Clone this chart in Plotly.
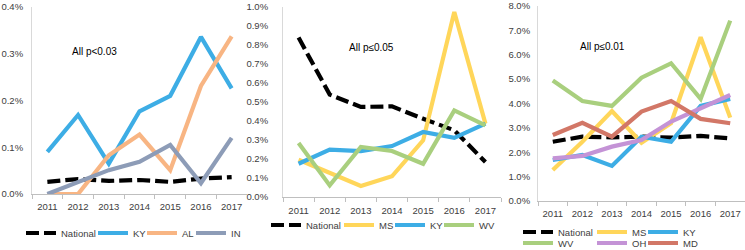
import plotly.graph_objects as go

years = ["2011", "2012", "2013", "2014", "2015", "2016", "2017"]

# Panel 1 (percent)
p1_national = [0.026, 0.032, 0.028, 0.030, 0.026, 0.033, 0.036]
p1_ky = [0.090, 0.169, 0.065, 0.177, 0.210, 0.336, 0.226]
p1_al = [0.000, 0.000, 0.083, 0.127, 0.051, 0.231, 0.337]
p1_in = [0.000, 0.026, 0.051, 0.069, 0.105, 0.023, 0.120]

# Panel 2 (percent)
p2_national = [0.839, 0.539, 0.474, 0.477, 0.412, 0.351, 0.184]
p2_ms = [0.196, 0.126, 0.058, 0.109, 0.298, 0.974, 0.386]
p2_ky = [0.175, 0.249, 0.242, 0.268, 0.342, 0.311, 0.386]
p2_wv = [0.284, 0.061, 0.263, 0.242, 0.175, 0.456, 0.377]

# Panel 3 (percent)
p3_national = [2.43, 2.64, 2.61, 2.64, 2.60, 2.67, 2.57]
p3_ms = [1.27, 2.43, 3.69, 2.39, 3.19, 6.72, 3.42]
p3_ky = [1.68, 1.89, 1.44, 2.64, 2.43, 3.90, 4.19]
p3_wv = [4.94, 4.10, 3.90, 5.06, 5.65, 4.19, 7.40]
p3_oh = [1.75, 1.85, 2.23, 2.50, 3.26, 3.80, 4.35]
p3_md = [2.71, 3.21, 2.64, 3.67, 4.10, 3.37, 3.19]

W, H = 745, 250
C = {"National": "black", "KY": "#3DADE5", "AL": "#F8B583", "IN": "#8D9CB7",
     "MS": "#FFD65A", "WV": "#A9CF7E", "OH": "#C493D6", "MD": "#D27767"}

FONT = "Liberation Sans"
TXT = "#404040"

fig = go.Figure()

# legend item positions (symbol start px, centre y px)
panels = [
    (1, [("National", p1_national, 29, 233), ("KY", p1_ky, 101, 233),
         ("AL", p1_al, 150, 233), ("IN", p1_in, 199, 233)]),
    (2, [("National", p2_national, 274, 225), ("MS", p2_ms, 347, 225),
         ("KY", p2_ky, 398, 225), ("WV", p2_wv, 447, 225)]),
    (3, [("National", p3_national, 526, 232), ("MS", p3_ms, 600, 232),
         ("KY", p3_ky, 651, 232), ("WV", p3_wv, 526, 243),
         ("OH", p3_oh, 600, 243), ("MD", p3_md, 651, 243)]),
]

legend_layouts = {}
li = 0
for pnum, series in panels:
    xa = "x" if pnum == 1 else f"x{pnum}"
    ya = "y" if pnum == 1 else f"y{pnum}"
    for name, vals, lx, ly in series:
        li += 1
        lname = "legend" if li == 1 else f"legend{li}"
        dash = "13px,5px" if name == "National" else "solid"
        fig.add_trace(go.Scatter(
            x=years, y=vals, name=name, mode="lines",
            line=dict(color=C[name], width=4.2, dash=dash),
            xaxis=xa, yaxis=ya, legend=lname, showlegend=True,
            hoverinfo="skip"))
        legend_layouts[lname] = dict(
            x=(lx - 8) / W, y=1 - ly / H, xanchor="left", yanchor="middle",
            orientation="h", bgcolor="rgba(0,0,0,0)", borderwidth=0,
            font=dict(family=FONT, size=9.5, color=TXT), itemwidth=30)

# axis domains (px)
doms = {
    1: dict(x=(32, 247), y=(7, 194), yr=[0, 0.4], dt=0.1, sd=6, xsd=4),
    2: dict(x=(283, 501), y=(7, 197), yr=[0, 1.0], dt=0.1, sd=12, xsd=5),
    3: dict(x=(538, 745), y=(6, 201), yr=[0, 8.0], dt=1.0, sd=5, xsd=4),
}
layout = dict(width=W, height=H,
              margin=dict(l=0, r=0, t=0, b=0, pad=0, autoexpand=False),
              plot_bgcolor="white", paper_bgcolor="white",
              font=dict(family=FONT, size=10, color=TXT))
for p, d in doms.items():
    xk = "xaxis" if p == 1 else f"xaxis{p}"
    yk = "yaxis" if p == 1 else f"yaxis{p}"
    ya = "y" if p == 1 else f"y{p}"
    xa = "x" if p == 1 else f"x{p}"
    layout[xk] = dict(domain=[d["x"][0] / W, d["x"][1] / W], anchor=ya,
                      type="category", categoryorder="array", categoryarray=years,
                      range=[-0.5, 6.5], tickson="boundaries", ticks="outside",
                      ticklen=4, tickcolor="#BFBFBF", showline=True,
                      linecolor="#BFBFBF", linewidth=1, showgrid=False,
                      tickangle=0, ticklabelstandoff=d["xsd"],
                      tickfont=dict(family=FONT, size=9.5, color=TXT),
                      fixedrange=True)
    layout[yk] = dict(domain=[1 - d["y"][1] / H, 1 - d["y"][0] / H], anchor=xa,
                      range=d["yr"], dtick=d["dt"], tick0=0, tickformat=".1f",
                      ticksuffix="%", showline=True, linecolor="#D9D9D9",
                      linewidth=1, showgrid=False, zeroline=False, ticks="",
                      ticklabelstandoff=d["sd"],
                      tickfont=dict(family=FONT, size=9.5, color=TXT),
                      fixedrange=True)
layout.update(legend_layouts)

notes = [("All p<0.03", 70, 52), ("All p\u22640.05", 347, 48), ("All p\u22640.01", 578, 47)]
layout["annotations"] = [dict(text=t, x=x / W, y=1 - y / H, xref="paper", yref="paper",
                              xanchor="left", yanchor="middle", showarrow=False,
                              font=dict(family=FONT, size=10, color="black"))
                         for t, x, y in notes]
fig.update_layout(**layout)
fig.write_html("out.html", config={"displayModeBar": False},
               post_script="document.body.style.margin='0';")
